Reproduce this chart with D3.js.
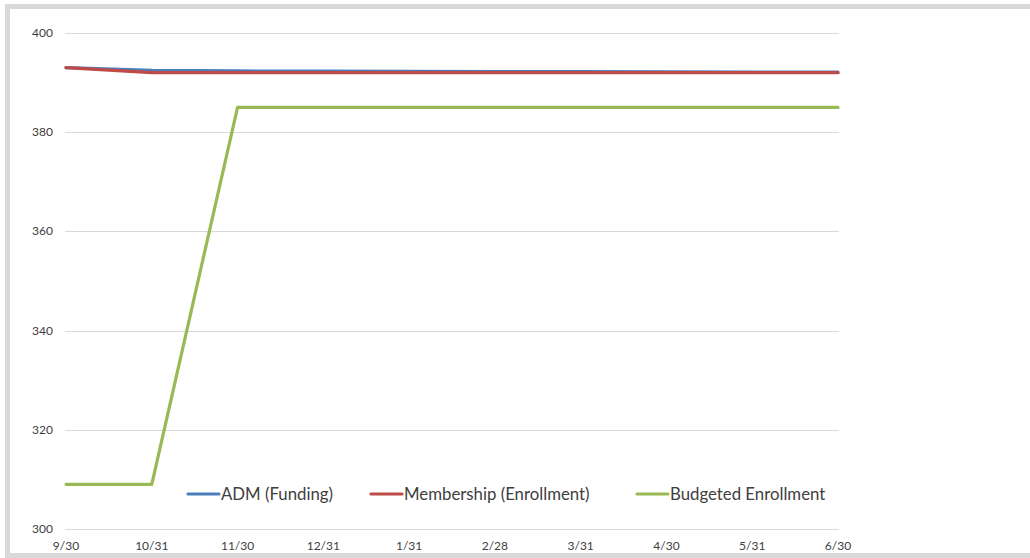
<!DOCTYPE html>
<html>
<head>
<meta charset="utf-8">
<script src="https://cdn.jsdelivr.net/npm/d3@7"></script>
<style>
body { margin: 0; background: #fff; }
text { font-family: Lato, "Open Sans", sans-serif; fill: #404040; }
</style>
</head>
<body>
<script>
var w = 1030, h = 558;

var dates = ["9/30","10/31","11/30","12/31","1/31","2/28","3/31","4/30","5/31","6/30"];
var adm = [393, 392.45, 392.35, 392.3, 392.25, 392.2, 392.2, 392.15, 392.1, 392.1];
var membership = [393, 392, 392, 392, 392, 392, 392, 392, 392, 392];
var budgeted = [309, 309, 385, 385, 385, 385, 385, 385, 385, 385];
var yTicks = [300, 320, 340, 360, 380, 400];

var seriesNames = ["ADM (Funding)", "Membership (Enrollment)", "Budgeted Enrollment"];
var seriesColors = ["#4a7ebb", "#be4b48", "#98b954"];
var seriesData = [adm, membership, budgeted];

var svg = d3.select("body").append("svg")
	.attr("width", w)
	.attr("height", h)

// chart frame
svg.append("rect")
	.attr("x", 7.5).attr("y", 6.5)
	.attr("width", 1040).attr("height", 549)
	.style("fill", "none")
	.style("stroke", "#d9d9d9")
	.style("stroke-width", 5)

var x = d3.scalePoint().domain(dates).range([66, 838]);
var y = d3.scaleLinear().domain([300, 400]).range([529, 33]);

// gridlines
svg.append("g").selectAll("line")
	.data(yTicks)
	.enter()
	.append("line")
	.attr("x1", 65).attr("x2", 839)
	.attr("y1", function(d){ return Math.round(y(d)) + 0.5; })
	.attr("y2", function(d){ return Math.round(y(d)) + 0.5; })
	.style("stroke", "#d9d9d9")
	.style("stroke-width", 1)

// y labels
svg.append("g").selectAll("text")
	.data(yTicks)
	.enter()
	.append("text")
	.attr("x", 53)
	.attr("y", function(d){ return y(d) + 4; })
	.attr("text-anchor", "end")
	.style("font-size", "12px")
	.text(function(d){ return d; })

// x labels
svg.append("g").selectAll("text")
	.data(dates)
	.enter()
	.append("text")
	.attr("x", function(d){ return x(d); })
	.attr("y", 550)
	.attr("text-anchor", "middle")
	.style("font-size", "12px")
	.text(function(d){ return d; })

var line = d3.line()
	.x(function(d, i){ return x(dates[i]); })
	.y(function(d){ return y(d); })

svg.append("g").selectAll("path")
	.data(seriesData)
	.enter()
	.append("path")
	.attr("d", line)
	.style("fill", "none")
	.style("stroke", function(d, i){ return seriesColors[i]; })
	.style("stroke-width", 3.2)
	.style("stroke-linejoin", "round")
	.style("stroke-linecap", "round")

// legend
var legX = [188, 371, 637];
var legend = svg.append("g").selectAll("g")
	.data(seriesNames)
	.enter()
	.append("g")
	.attr("transform", function(d, i){ return "translate(" + legX[i] + ",494)"; })

legend.append("line")
	.attr("x1", 0).attr("x2", 31)
	.style("stroke", function(d, i){ return seriesColors[i]; })
	.style("stroke-width", 3.2)
	.style("stroke-linecap", "round")

legend.append("text")
	.attr("x", 33)
	.attr("y", 5.5)
	.style("font-size", "16.8px")
	.text(function(d){ return d; })
</script>
</body>
</html>
